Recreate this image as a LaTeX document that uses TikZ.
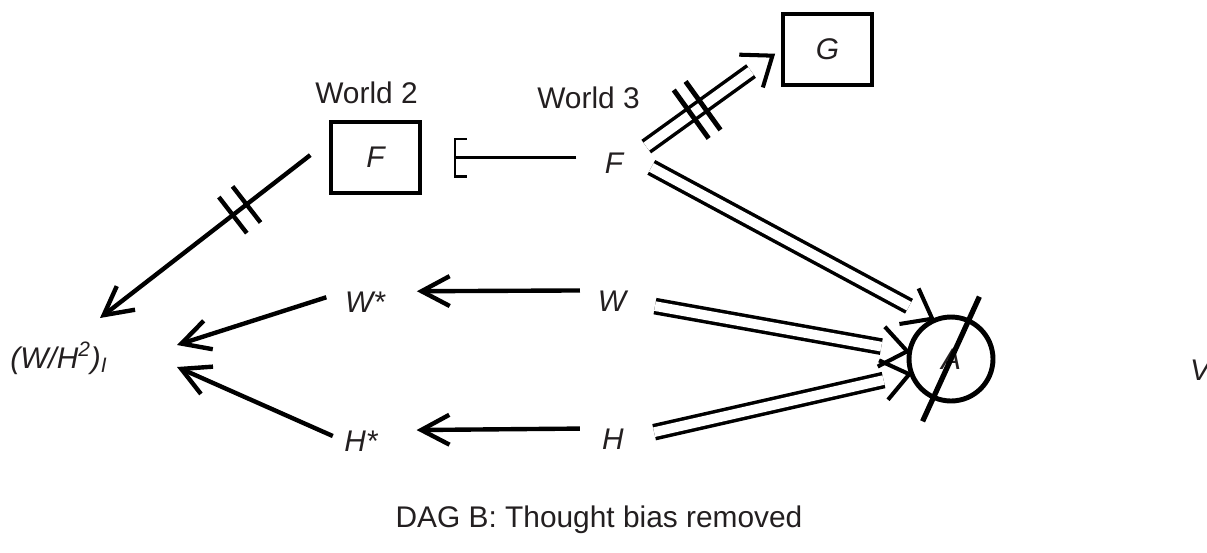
\documentclass[tikz,border=0pt]{standalone}
\usepackage{fontspec}
\setmainfont{Liberation Sans}
\usetikzlibrary{arrows.meta,calc}
\definecolor{txt}{HTML}{231F20}

\begin{document}
\begin{tikzpicture}[x=0.02cm,y=-0.02cm,
  every node/.style={text=txt,font=\fontsize{17}{20}\selectfont},
  lbl/.style={inner sep=0pt,font=\fontsize{17}{20}\selectfont\itshape},
  box/.style={draw,line width=2pt,minimum width=1.79cm,minimum height=1.43cm,inner sep=0pt,font=\fontsize{17}{20}\selectfont\itshape},
  arr/.style={line width=2.5pt,-{Straight Barb[length=16pt,width=17pt]}},
  dbl/.style={double,line width=2pt,double distance=5.5pt,shorten >=15pt},
  chev/.style={line width=2.3pt,line join=miter,line cap=butt},
  inhib/.style={line width=1.2pt,-{Bracket[width=0.8cm,length=0.24cm]}},
  cut/.style={line width=2.5pt}]
  \useasboundingbox (0,0) rectangle (1207,552);

  \node[box] (Fb) at (375.5,157.5) {F};
  \node[box] (G) at (827.5,49.5) {G};
  \node[anchor=base] (w2) at (366.5,103) {World 2};
  \node[anchor=base] (w3) at (588.5,108) {World 3};
  \node[lbl] (Fw) at (614,163) {F};
  \node[lbl] (W) at (612,301) {W};
  \node[lbl] (H) at (613,439) {H};
  \node[lbl] (Ws) at (365,302) {W*};
  \node[lbl] (Hs) at (361,441) {H*};
  \node[lbl,anchor=base west] (WH) at (10,368) {(W/H\textsuperscript{2})\textsubscript{I}};
  \node[lbl,draw,circle,line width=2.8pt,minimum size=1.68cm] (A) at (951,359) {A};
  \node[lbl] (V) at (1200,370) {V};
  \node[anchor=base] (cap) at (599,527) {DAG B: Thought bias removed};

  % arrow ends
  \coordinate (WHf) at ([shift={(90,-50)}]WH.base west);
  \coordinate (WHw) at ([shift={(167,-23)}]WH.base west);
  \coordinate (WHh) at ([shift={(167,-1)}]WH.base west);
  \coordinate (Gt) at ($(G.west)!6pt!(Fw.east)$);

  \draw[line width=3pt] ([shift={(65.5:1.37cm)}]A.center) -- ([shift={(245.5:1.37cm)}]A.center); % slash

  \draw[arr,shorten <=10pt,shorten >=18pt] (W.north west) -- (Ws.north east);
  \draw[arr,shorten <=12.5pt,shorten >=22pt] (H.north west) -- (Hs.north east);
  \draw[arr,shorten <=11pt] (Ws.north west) -- (WHw);
  \draw[arr,shorten <=7pt] (Hs.west) -- (WHh);
  \draw[arr,shorten <=13.5pt] (Fb.160) -- (WHf);
  \draw[inhib,shorten <=16pt,shorten >=18pt] (Fw.west |- Fb.east) -- (Fb.east);

  \draw[dbl,shorten <=16pt] (Fw.east) -- (Gt);
  \draw[dbl,shorten <=18pt] (Fw.north east) -- (A.115);
  \draw[dbl,shorten <=16.5pt] (W.east) -- (A.170);
  \draw[dbl,shorten <=17.5pt] (H.east) -- (A.200);
  \foreach \a/\b in {Fw.east/Gt, Fw.north east/A.115, W.east/A.170, H.east/A.200}
    \draw[chev] ($(\b)!15pt!(\a)!11.5pt!90:(\a)$) -- (\b) -- ($(\b)!15pt!(\a)!11.5pt!-90:(\a)$);

  % cut marks
  \foreach \p in {0.43,0.505}
    \draw[cut,line width=2.8pt] ($(Fw.east)!\p!(G.west)!17pt!90:(G.west)$) -- ($(Fw.east)!\p!(G.west)!17pt!-90:(G.west)$);
  \foreach \p in {0.36,0.42}
    \draw[cut] ($(Fb.160)!\p!(WHf)!13pt!90:(WHf)$) -- ($(Fb.160)!\p!(WHf)!13pt!-90:(WHf)$);
\end{tikzpicture}
\end{document}
